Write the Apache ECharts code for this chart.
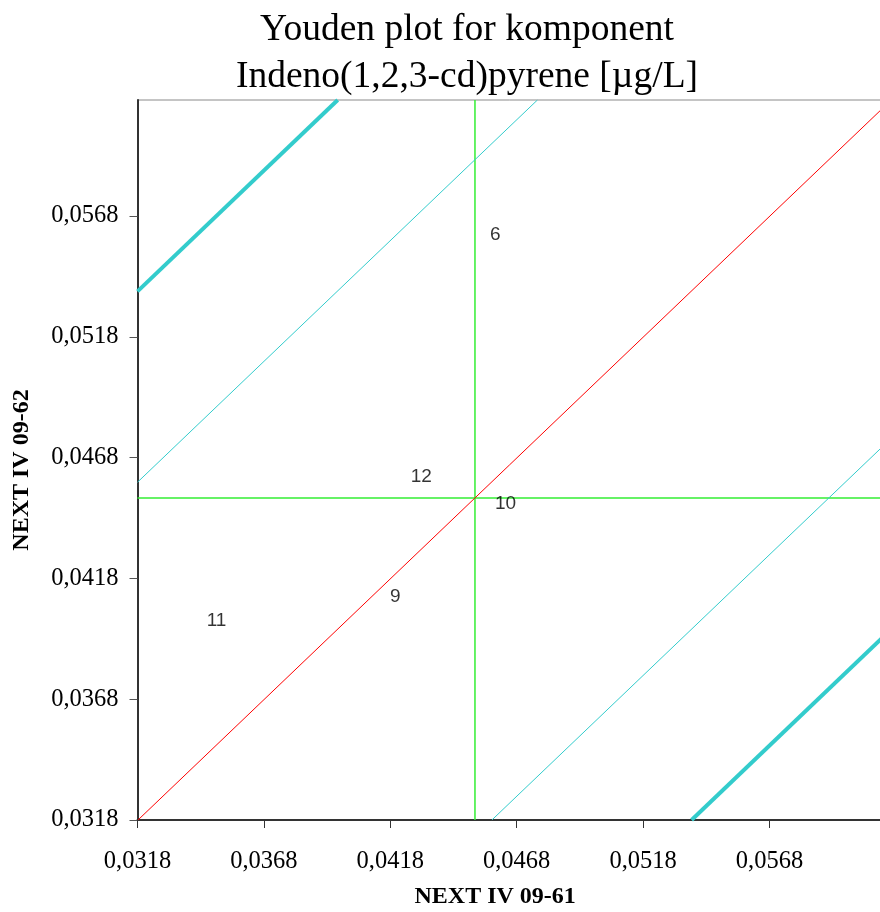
<!DOCTYPE html>
<html>
<head>
<meta charset="utf-8">
<script src="https://cdn.jsdelivr.net/npm/echarts@6/dist/echarts.min.js"></script>
<style>html,body{margin:0;padding:0;background:#fff;}#chart{width:880px;height:912px;}</style>
</head>
<body>
<div id="chart"></div>
<script>
// ---- data ----
const pointLabels = ['6', '12', '10', '9', '11'];
const xValues = [0.04555, 0.04241, 0.04574, 0.04159, 0.03434];
const yValues = [0.05601, 0.04600, 0.04488, 0.04103, 0.04004];
const medianX = 0.04515;
const medianY = 0.04513;
const innerLimit = 0.0140;   // thin cyan lines offset
const outerLimit = 0.0219;   // thick cyan lines offset
const xTicks = [0.0318, 0.0368, 0.0418, 0.0468, 0.0518, 0.0568];
const yTicks = [0.0318, 0.0368, 0.0418, 0.0468, 0.0518, 0.0568];
const axisMin = 0.0318;
const axisMax = 0.0616;

const chart = echarts.init(document.getElementById('chart'), null, {renderer: 'canvas'});

function diagonal(offset) {
  // line y = x + (medianY - medianX) + offset, clipped to the axis box
  const c = (medianY - medianX) + offset;
  const x0 = Math.max(axisMin, axisMin - c);
  const x1 = Math.min(axisMax, axisMax - c);
  return [[x0, x0 + c], [x1, x1 + c]];
}
function lineSeries(data, color, width) {
  return {type: 'line', data: data, symbol: 'none', silent: true, animation: false,
    lineStyle: {color: color, width: width}, z: 2};
}
const fmt = v => v.toFixed(4).replace('.', ',');
const serif = 'Liberation Serif';

chart.setOption({
  animation: false,
  backgroundColor: '#ffffff',
  title: {
    text: 'Youden plot for komponent\nIndeno(1,2,3-cd)pyrene [µg/L]',
    left: 462, top: 2, textAlign: 'center',
    textStyle: {fontFamily: serif, fontSize: 37.5, fontWeight: 'normal', color: '#000', lineHeight: 47}
  },
  grid: {left: 137.5, top: 100, bottom: 92, right: -10.8, containLabel: false, outerBoundsMode: 'none',
    show: true, borderColor: '#8a8a8a', borderWidth: 1, backgroundColor: 'transparent'},
  xAxis: {
    type: 'value', min: axisMin, max: axisMax, interval: 0.005,
    name: 'NEXT IV 09-61', nameLocation: 'middle', nameGap: 65,
    nameTextStyle: {fontFamily: serif, fontSize: 24, fontWeight: 'bold', color: '#000', padding: [0, 38, 0, 0]},
    axisLine: {show: true, onZero: false, lineStyle: {color: '#333', width: 2}},
    axisTick: {show: true, inside: false, length: 8, customValues: xTicks, lineStyle: {color: '#333', width: 1}},
    axisLabel: {customValues: xTicks, hideOverlap: false, margin: 29, formatter: fmt,
      fontFamily: serif, fontSize: 24.5, color: '#000'},
    splitLine: {show: false}
  },
  yAxis: {
    type: 'value', min: axisMin, max: axisMax, interval: 0.005,
    name: 'NEXT IV 09-62', nameLocation: 'middle', nameGap: 104,
    nameTextStyle: {fontFamily: serif, fontSize: 24, fontWeight: 'bold', color: '#000', padding: [0, 20, 0, 0]},
    axisLine: {show: true, onZero: false, lineStyle: {color: '#333', width: 2}},
    axisTick: {show: true, inside: false, length: 8, customValues: yTicks, lineStyle: {color: '#555', width: 1}},
    axisLabel: {customValues: yTicks, hideOverlap: false, margin: 19, formatter: fmt,
      fontFamily: serif, fontSize: 24.5, color: '#000'},
    splitLine: {show: false}
  },
  series: [
    lineSeries([[medianX, axisMin], [medianX, axisMax]], '#33ee33', 1.5),
    lineSeries([[axisMin, medianY], [axisMax, medianY]], '#33ee33', 1.5),
    lineSeries(diagonal(0), '#ff0000', 1),
    lineSeries(diagonal(innerLimit), '#33cccc', 1),
    lineSeries(diagonal(-innerLimit), '#33cccc', 1),
    lineSeries(diagonal(outerLimit), '#33cccc', 4),
    lineSeries(diagonal(-outerLimit), '#33cccc', 4),
    {
      type: 'scatter', symbolSize: 0, silent: true, z: 5,
      data: xValues.map((x, i) => [x, yValues[i]]),
      label: {show: true, position: 'right', distance: 5,
        formatter: p => pointLabels[p.dataIndex],
        fontFamily: 'Liberation Sans', fontSize: 19, color: '#000'}
    }
  ]
});
</script>
</body>
</html>
